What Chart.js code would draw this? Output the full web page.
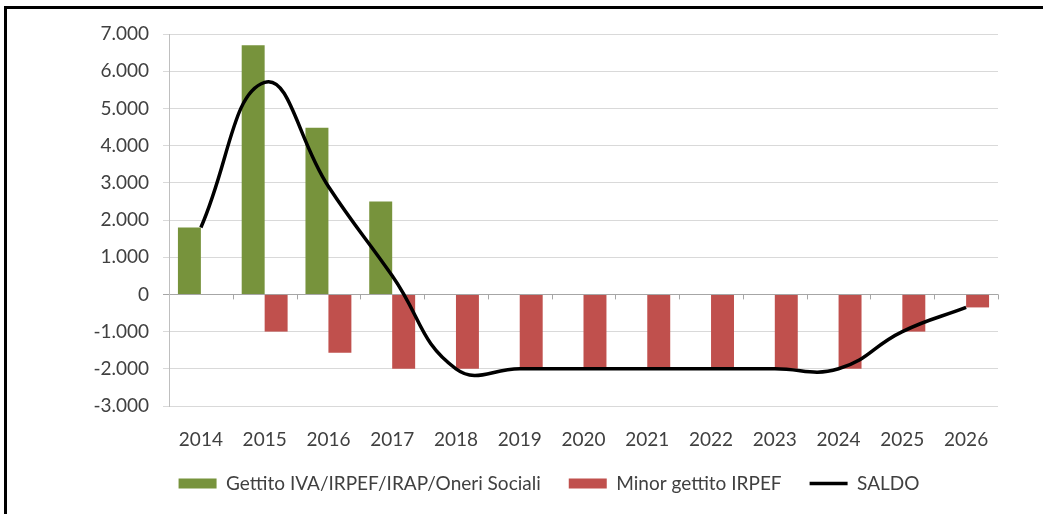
<!DOCTYPE html>
<html lang="it">
<head>
    <meta charset="UTF-8">
    <title>Gettito e minor gettito IRPEF</title>
    <style>
        body {
            margin: 0;
            background: #fff;
        }
        .wrap {
            position: relative;
            width: 1043px;
            height: 514px;
        }
        .cornice { /* bordo nero in alto e a sinistra */
            position: absolute;
            left: 4px;
            top: 6px;
            right: -10px;
            bottom: -10px;
            border-top: 3px solid #000;
            border-left: 3px solid #000;
            pointer-events: none;
        }
    </style>
</head>
<body>
    <div class="wrap">
        <canvas id="grafico" width="1043" height="514"></canvas>
        <div class="cornice"></div>
    </div>

    <script src="https://cdn.jsdelivr.net/npm/chart.js"></script>
    <script>
        // Dati (milioni di euro)
        const anni = ['2014', '2015', '2016', '2017', '2018', '2019', '2020', '2021', '2022', '2023', '2024', '2025', '2026'];
        const gettito = [1800, 6700, 4480, 2500, null, null, null, null, null, null, null, null, null];
        const minorGettito = [null, -1000, -1570, -2000, -2000, -2000, -2000, -2000, -2000, -2000, -2000, -1000, -350];
        const saldo = [1800, 5700, 2900, 500, -2000, -2000, -2000, -2000, -2000, -2000, -2000, -1000, -350];
        const yMin = -3000;
        const yMax = 7000;
        const yStep = 1000;

        const testo = '#404040';
        const font = { family: 'Lato', size: 19 };

        // separatore delle migliaia all'italiana
        function formatta(v) {
            const s = String(Math.abs(v)).replace(/\B(?=(\d{3})+(?!\d))/g, '.');
            return (v < 0 ? '-' : '') + s;
        }

        // piccole tacche sull'asse dello zero tra una categoria e l'altra
        const tacche = {
            id: 'tacche',
            beforeDatasetsDraw(chart) {
                const x = chart.scales.x, y = chart.scales.y;
                const y0 = y.getPixelForValue(0);
                const meta = (x.getPixelForValue(1) - x.getPixelForValue(0)) / 2;
                const c = chart.ctx;
                c.save();
                c.strokeStyle = '#a6a6a6';
                c.lineWidth = 1;
                c.beginPath();
                for (let i = 0; i < anni.length; i++) {
                    const px = Math.round(x.getPixelForValue(i) + meta) + 0.5;
                    c.moveTo(px, y0);
                    c.lineTo(px, y0 + 5);
                }
                c.stroke();
                c.restore();
            }
        };

        // legenda spostata un po' (in su e verso destra)
        const spostaLegenda = {
            id: 'spostaLegenda',
            beforeInit(chart) {
                const leg = chart.legend;
                const fitOrig = leg.fit;
                leg.fit = function () {
                    fitOrig.call(leg);
                    leg.height += 1;
                };
                const drawOrig = leg.draw;
                leg.draw = function () {
                    chart.ctx.save();
                    chart.ctx.translate(20, -10);
                    drawOrig.call(leg);
                    chart.ctx.restore();
                };
            }
        };

        const ctx = document.getElementById('grafico').getContext('2d');
        const grafico = new Chart(ctx, {
            type: 'bar',
            data: {
                labels: anni,
                datasets: [{
                    label: 'Gettito IVA/IRPEF/IRAP/Oneri Sociali',
                    data: gettito,
                    backgroundColor: '#77933C',
                    pointStyle: 'rect',
                    order: 2
                }, {
                    label: 'Minor gettito IRPEF',
                    data: minorGettito,
                    backgroundColor: '#C0504D',
                    pointStyle: 'rect',
                    order: 2
                }, {
                    type: 'line',
                    label: 'SALDO',
                    data: saldo,
                    borderColor: '#000',
                    backgroundColor: '#000',
                    borderWidth: 3.5,
                    tension: 0.45,
                    pointRadius: 0,
                    pointStyle: 'line',
                    order: 1
                }]
            },
            options: {
                responsive: false,
                animation: false,
                categoryPercentage: 0.72,
                barPercentage: 1,
                layout: {
                    padding: { top: 34, left: 60, right: 45, bottom: 0 }
                },
                scales: {
                    x: {
                        grid: { display: false },
                        border: { display: false },
                        ticks: { color: testo, font: font, padding: 14 },
                        afterFit(scale) { scale.height = 50; }
                    },
                    y: {
                        min: yMin,
                        max: yMax,
                        ticks: {
                            stepSize: yStep,
                            color: testo,
                            font: font,
                            padding: 14,
                            callback: v => formatta(v)
                        },
                        grid: {
                            color: c => c.tick && c.tick.value === 0 ? '#a6a6a6' : '#d9d9d9',
                            tickLength: 6
                        },
                        border: { color: '#bfbfbf' },
                        afterFit(scale) { scale.width = 109; }
                    }
                },
                plugins: {
                    legend: {
                        position: 'bottom',
                        labels: {
                            usePointStyle: true,
                            pointStyleWidth: 38,
                            boxHeight: 10,
                            padding: 28,
                            color: testo,
                            font: font,
                            sort: (a, b) => a.datasetIndex - b.datasetIndex
                        }
                    },
                    tooltip: { enabled: false }
                }
            },
            plugins: [tacche, spostaLegenda]
        });
    </script>
</body>
</html>
